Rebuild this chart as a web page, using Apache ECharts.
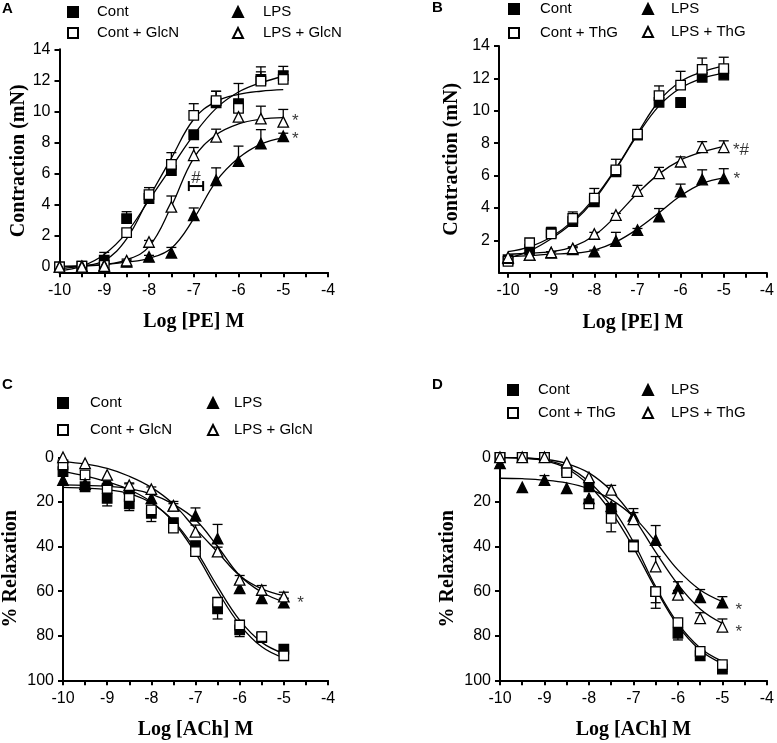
<!DOCTYPE html>
<html>
<head>
<meta charset="utf-8">
<script src="https://cdn.jsdelivr.net/npm/echarts@6/dist/echarts.min.js"></script>
<style>
html,body{margin:0;padding:0;background:#fff;}
#chart{width:777px;height:743px;}
</style>
</head>
<body>
<div id="chart"></div>
<script>
// ---------------- DATA ----------------
const logDose = [-10, -9.5, -9, -8.5, -8, -7.5, -7, -6.5, -6, -5.5, -5];

// Panel A: Contraction (mN) vs Log [PE] M
const A_cont      = [0, 0.05, 0.43, 3.1, 4.4, 6.2, 8.5, 10.55, 10.5, 12.07, 12.3];
const A_cont_err  = [0, 0, 0.5, 0.45, 0.3, 0.3, 0.2, 0.75, 1.3, 0.8, 0.6];
const A_glcn      = [0, 0.05, 0.1, 2.2, 4.65, 6.6, 9.75, 10.7, 10.2, 11.95, 12.07];
const A_glcn_err  = [0, 0, 0.1, 0.2, 0.45, 0.75, 0.75, 0.6, 0.4, 0.6, 0.5];
const A_lps       = [0, 0.05, 0.1, 0.32, 0.64, 0.9, 3.32, 5.57, 6.8, 7.93, 8.4];
const A_lps_err   = [0, 0, 0, 0.1, 0.1, 0.35, 0.47, 0.8, 0.97, 0.9, 0.2];
const A_lpsg      = [0, 0, 0.05, 0.4, 1.6, 3.86, 7.18, 8.36, 9.65, 9.54, 9.33];
const A_lpsg_err  = [0, 0, 0, 0.1, 0.1, 0.7, 0.5, 0.5, 0.3, 0.8, 0.8];
const A_cont_fit  = [-0.25, 0.05, 0.8, 2.2, 4.3, 6.4, 8.5, 10.2, 11.25, 11.85, 12.25];
const A_glcn_fit  = [-0.1, 0.05, 0.4, 1.8, 4.45, 7.0, 9.5, 10.65, 11.1, 11.3, 11.4];
const A_lps_fit   = [0.05, 0.08, 0.15, 0.3, 0.55, 1.2, 3.1, 5.5, 7.0, 7.9, 8.3];
const A_lpsg_fit  = [0, 0.05, 0.15, 0.45, 1.3, 3.9, 7.0, 8.5, 9.2, 9.5, 9.6];
const A_notes     = [[-4.73, 9.6, '*'], [-4.73, 8.47, '*'], [-6.95, 5.95, '#']];
const A_bracket   = [[-7.11, -6.79, 5.2]];

// Panel B: Contraction (mN) vs Log [PE] M
const B_cont      = [0.8, 1.45, 2.47, 3.15, 4.38, 6.23, 8.5, 10.52, 10.5, 12.06, 12.2];
const B_cont_err  = [0.1, 0.1, 0.3, 0.3, 0.3, 0.3, 0.2, 0.3, 0.3, 0.3, 0.3];
const B_thg       = [0.7, 1.85, 2.4, 3.35, 4.6, 6.35, 8.55, 10.93, 11.58, 12.55, 12.6];
const B_thg_err   = [0.1, 0.15, 0.4, 0.4, 0.6, 0.65, 0.2, 0.6, 0.85, 0.7, 0.7];
const B_lps       = [0.9, 1.09, 1.23, 1.44, 1.3, 1.95, 2.63, 3.46, 5.0, 5.75, 5.82];
const B_lps_err   = [0.1, 0.05, 0.05, 0.1, 0.1, 0.54, 0.1, 0.5, 0.47, 0.6, 0.6];
const B_lpst      = [0.95, 1.1, 1.25, 1.5, 2.39, 3.56, 5.04, 6.13, 6.85, 7.74, 7.74];
const B_lpst_err  = [0.05, 0.05, 0.05, 0.1, 0.1, 0.1, 0.35, 0.37, 0.3, 0.35, 0.4];
const B_cont_fit  = [0.9, 1.35, 2.1, 3.1, 4.5, 6.4, 8.5, 10.3, 11.4, 12.0, 12.3];
const B_thg_fit   = [1.3, 1.6, 2.2, 3.2, 4.6, 6.45, 8.6, 10.6, 11.8, 12.4, 12.75];
const B_lps_fit   = [1.0, 1.05, 1.15, 1.2, 1.4, 1.9, 2.7, 3.7, 4.75, 5.5, 5.85];
const B_lpst_fit  = [1.15, 1.2, 1.3, 1.6, 2.3, 3.5, 4.9, 6.1, 6.95, 7.45, 7.8];
const B_notes     = [[-4.6, 7.78, '*#'], [-4.7, 6.03, '*']];

// Panel C: % Relaxation vs Log [ACh] M
const C_cont      = [6.4, 13.2, 18.4, 20.9, 25.1, 29.3, 39.6, 68.0, 77.4, 80.9, 86];
const C_cont_err  = [0, 1, 3.4, 3, 3.7, 2.5, 3.5, 4.5, 3, 2, 1];
const C_glcn      = [3.4, 7.9, 13.9, 17.6, 23.6, 31.8, 42.3, 65, 75.2, 80.4, 89];
const C_glcn_err  = [0, 0, 0, 0, 0, 0, 2, -2, -2, -2, -1];
const C_lps       = [10.2, 12, 10.2, 13.9, 18.4, 21.8, 26.2, 36.5, 58.8, 63.2, 65.2];
const C_lps_err   = [0, 0, 0, -2, -2, -2, -3.5, -6.4, -2, -2, -2];
const C_lpsg      = [0, 2.7, 7.9, 12.5, 14.3, 21.8, 33.4, 42.3, 55, 59.5, 62.5];
const C_lpsg_err  = [0, 0, 0, -1, -1, -1, -3, -2, -2, -2, -2];
const C_cont_fit  = [13.5, 13.8, 14.5, 16.3, 20.5, 28.5, 41.5, 58, 73, 83, 88];
const C_glcn_fit  = [6.4, 8.3, 11, 14.5, 20, 29, 43, 60, 75, 85, 90];
const C_lps_fit   = [12.4, 12.6, 13, 14, 16.5, 21, 28, 40, 53, 60.5, 64.8];
const C_lpsg_fit  = [1.9, 3, 5, 8.5, 13.5, 21, 32, 42.5, 53, 59, 62];
const C_notes     = [[-4.62, 63.7, '*']];

// Panel D: % Relaxation vs Log [ACh] M
const D_cont      = [0, 0, 0, 6, 13.2, 22.9, 39.3, 60.2, 78.9, 89, 95];
const D_cont_err  = [0, 0, 0, 1, 1, 2, 3, 5, 3, 2, 1];
const D_thg       = [0, 0, 0, 6.9, 20.9, 27.4, 40, 60.2, 74.1, 87, 93];
const D_thg_err   = [0, 0, 0, 1, 2, 6, 2, 7.5, 2, 2, 1];
const D_lps       = [2.7, 13.5, 10.2, 13.9, 18.4, 22, 26.3, 37.1, 58.8, 62.8, 65.2];
const D_lps_err   = [0, 0, -2, 0, 0, 0, -3.3, -6.5, -3, -3.5, -2.7];
const D_lpst      = [0, 0, 0, 2.4, 9, 14.6, 27.8, 49, 61.7, 72.2, 76];
const D_lpst_err  = [0, 0, 0, 0, 0, -2, -3, -4.5, -2, -2.5, -3.5];
const D_cont_fit  = [0, 0.3, 1.2, 4.2, 11, 22, 38, 58, 74.5, 85.5, 91.5];
const D_thg_fit   = [0, 0.4, 1.5, 5, 12.5, 24.5, 40.5, 59, 75.5, 86.5, 92.5];
const D_lps_fit   = [9.4, 9.6, 10.2, 11.5, 14.2, 19, 26.6, 38, 50.5, 59.5, 64.7];
const D_lpst_fit  = [0, 0.3, 0.9, 2.8, 7, 15, 27, 42.5, 57, 68, 74.5];
const D_notes     = [[-4.63, 66.7, '*'], [-4.63, 76.7, '*']];

// Tick labels
const xLabelsPE  = [-10, -9, -8, -7, -6, -5, -4];
const xTicksHalf = [-10, -9.5, -9, -8.5, -8, -7.5, -7, -6.5, -6, -5.5, -5, -4.5, -4];
const yLabelsA   = [0, 2, 4, 6, 8, 10, 12, 14];
const yLabelsB   = [2, 4, 6, 8, 10, 12, 14];
const yLabelsCD  = [0, 20, 40, 60, 80, 100];

// ---------------- CHART ----------------
const SANS = 'Liberation Sans, Arial, sans-serif';
const SERIF = 'Liberation Serif, Times New Roman, serif';
const zip = (xs, ys) => xs.map((x, i) => [x, ys[i]]);
const zipErr = (xs, ys, es) => xs.map((x, i) => [x, ys[i], es[i]]).filter(d => d[2] !== 0);

const grids = [
  {left: 59.5, top: 49.3, width: 268.5, height: 223},
  {left: 499, top: 45.9, width: 269.3, height: 226.8},
  {left: 60, top: 457.3, width: 268, height: 223},
  {left: 500, top: 457.3, width: 268, height: 223}
];

function xAxisCfg(gi, min, name) {
  return {
    type: 'value', gridIndex: gi, min: min, max: -4,
    name: name, nameLocation: 'middle', nameGap: 40,
    nameTextStyle: {fontFamily: SERIF, fontWeight: 'bold', fontSize: 20, color: '#000'},
    axisLine: {onZero: false, lineStyle: {color: '#000', width: 2}},
    axisTick: {show: true, length: 5, lineStyle: {color: '#000', width: 2}, customValues: xTicksHalf},
    axisLabel: {color: '#000', fontSize: 16, fontFamily: SANS, margin: 10, customValues: xLabelsPE},
    splitLine: {show: false}
  };
}
function yAxisCfg(gi, min, max, labels, name, inverse, gap) {
  return {
    type: 'value', gridIndex: gi, min: min, max: max, inverse: !!inverse,
    name: name, nameLocation: 'middle', nameGap: gap,
    nameTextStyle: {fontFamily: SERIF, fontWeight: 'bold', fontSize: 20, color: '#000'},
    axisLine: {show: true, onZero: false, lineStyle: {color: '#000', width: 2}},
    axisTick: {show: true, length: 5, lineStyle: {color: '#000', width: 2}, customValues: labels},
    axisLabel: {color: '#000', fontSize: 16, fontFamily: SANS, margin: 9, customValues: labels},
    splitLine: {show: false}
  };
}

const STY = {
  cont: {symbol: 'rect', size: 9.5, fill: '#000'},
  ctrt: {symbol: 'rect', size: 9.5, fill: '#fff'},
  lps:  {symbol: 'triangle', size: 10.5, fill: '#000'},
  lpst: {symbol: 'triangle', size: 10.5, fill: '#fff'}
};

const series = [];
function addSet(gi, name, sty, vals, errs, fit) {
  series.push({
    type: 'line', xAxisIndex: gi, yAxisIndex: gi, data: zip(logDose, fit),
    smooth: 0.4, symbol: 'none', silent: true, z: 2,
    lineStyle: {color: '#000', width: 1.3}
  });
  series.push({
    type: 'custom', xAxisIndex: gi, yAxisIndex: gi, data: zipErr(logDose, vals, errs), z: 3, silent: true,
    renderItem: function (params, api) {
      const x = api.value(0), y = api.value(1), e = api.value(2);
      const p0 = api.coord([x, y]);
      const p1 = api.coord([x, y + e]);
      const w = 5;
      return {type: 'group', children: [
        {type: 'line', shape: {x1: p0[0], y1: p0[1], x2: p1[0], y2: p1[1]}, style: {stroke: '#000', lineWidth: 1.3}},
        {type: 'line', shape: {x1: p1[0] - w, y1: p1[1], x2: p1[0] + w, y2: p1[1]}, style: {stroke: '#000', lineWidth: 1.3}}
      ]};
    }
  });
  series.push({
    type: 'scatter', name: name, xAxisIndex: gi, yAxisIndex: gi, data: zip(logDose, vals), z: 5,
    symbol: sty.symbol, symbolSize: sty.size,
    itemStyle: {color: sty.fill, borderColor: '#000', borderWidth: 1.3, opacity: 1}
  });
}
function addNotes(gi, notes) {
  series.push({
    type: 'scatter', xAxisIndex: gi, yAxisIndex: gi, data: notes, symbolSize: 1, silent: true, z: 6,
    itemStyle: {color: 'rgba(0,0,0,0)'},
    label: {show: true, position: 'inside', formatter: p => p.data[2], color: '#000',
      fontSize: 17, fontFamily: SANS, offset: [0, 4]}
  });
}

addSet(0, 'Cont', STY.cont, A_cont, A_cont_err, A_cont_fit);
addSet(0, 'Cont + GlcN', STY.ctrt, A_glcn, A_glcn_err, A_glcn_fit);
addSet(0, 'LPS', STY.lps, A_lps, A_lps_err, A_lps_fit);
addSet(0, 'LPS + GlcN', STY.lpst, A_lpsg, A_lpsg_err, A_lpsg_fit);
addNotes(0, A_notes);
series.push({
  type: 'custom', xAxisIndex: 0, yAxisIndex: 0, data: A_bracket, silent: true, z: 6,
  renderItem: function (params, api) {
    const a = api.coord([api.value(0), api.value(2)]);
    const b = api.coord([api.value(1), api.value(2)]);
    const h = 5;
    const st = {stroke: '#000', lineWidth: 2};
    return {type: 'group', children: [
      {type: 'line', shape: {x1: a[0], y1: a[1], x2: b[0], y2: b[1]}, style: st},
      {type: 'line', shape: {x1: a[0], y1: a[1] - h, x2: a[0], y2: a[1] + h}, style: st},
      {type: 'line', shape: {x1: b[0], y1: b[1] - h, x2: b[0], y2: b[1] + h}, style: st}
    ]};
  }
});

addSet(1, 'Cont', STY.cont, B_cont, B_cont_err, B_cont_fit);
addSet(1, 'Cont + ThG', STY.ctrt, B_thg, B_thg_err, B_thg_fit);
addSet(1, 'LPS', STY.lps, B_lps, B_lps_err, B_lps_fit);
addSet(1, 'LPS + ThG', STY.lpst, B_lpst, B_lpst_err, B_lpst_fit);
addNotes(1, B_notes);

addSet(2, 'Cont', STY.cont, C_cont, C_cont_err, C_cont_fit);
addSet(2, 'Cont + GlcN', STY.ctrt, C_glcn, C_glcn_err, C_glcn_fit);
addSet(2, 'LPS', STY.lps, C_lps, C_lps_err, C_lps_fit);
addSet(2, 'LPS + GlcN', STY.lpst, C_lpsg, C_lpsg_err, C_lpsg_fit);
addNotes(2, C_notes);

addSet(3, 'Cont', STY.cont, D_cont, D_cont_err, D_cont_fit);
addSet(3, 'Cont + ThG', STY.ctrt, D_thg, D_thg_err, D_thg_fit);
addSet(3, 'LPS', STY.lps, D_lps, D_lps_err, D_lps_fit);
addSet(3, 'LPS + ThG', STY.lpst, D_lpst, D_lpst_err, D_lpst_fit);
addNotes(3, D_notes);

function legendCol(left, top, gap, pad, names) {
  return {
    left: left, top: top, orient: 'vertical', padding: 0, itemGap: gap,
    itemWidth: 10, itemHeight: 10, selectedMode: false,
    textStyle: {fontSize: 15, fontFamily: SANS, color: '#000', lineHeight: 15, padding: [0, 0, 0, pad]},
    data: names
  };
}

const option = {
  animation: false,
  backgroundColor: '#fff',
  title: [
    {text: 'A', left: 2, top: 1, padding: 0, textStyle: {fontSize: 15, fontWeight: 'bold', fontFamily: SANS, color: '#000'}},
    {text: 'B', left: 432, top: 0, padding: 0, textStyle: {fontSize: 15, fontWeight: 'bold', fontFamily: SANS, color: '#000'}},
    {text: 'C', left: 2, top: 377, padding: 0, textStyle: {fontSize: 15, fontWeight: 'bold', fontFamily: SANS, color: '#000'}},
    {text: 'D', left: 432, top: 377, padding: 0, textStyle: {fontSize: 15, fontWeight: 'bold', fontFamily: SANS, color: '#000'}}
  ],
  legend: [
    legendCol(67, 4.5, 6, 14, ['Cont', 'Cont + GlcN']),
    legendCol(232, 4.5, 6, 15, ['LPS', 'LPS + GlcN']),
    legendCol(508, 1.5, 9, 16, ['Cont', 'Cont + ThG']),
    legendCol(642, 1.5, 8, 13, ['LPS', 'LPS + ThG']),
    legendCol(57, 395.5, 12, 17, ['Cont', 'Cont + GlcN']),
    legendCol(207, 395.5, 12, 11, ['LPS', 'LPS + GlcN']),
    legendCol(507, 382.5, 8, 15, ['Cont', 'Cont + ThG']),
    legendCol(642, 382.5, 8, 13, ['LPS', 'LPS + ThG'])
  ],
  grid: grids,
  xAxis: [
    xAxisCfg(0, -10, 'Log [PE] M'),
    xAxisCfg(1, -10.21, 'Log [PE] M'),
    xAxisCfg(2, -10, 'Log [ACh] M'),
    xAxisCfg(3, -10, 'Log [ACh] M')
  ],
  yAxis: [
    yAxisCfg(0, -0.35, 14, yLabelsA, 'Contraction (mN)', false, 29),
    yAxisCfg(1, 0, 14, yLabelsB, 'Contraction (mN)', false, 37),
    yAxisCfg(2, 0, 100, yLabelsCD, '% Relaxation', true, 42),
    yAxisCfg(3, 0, 100, yLabelsCD, '% Relaxation', true, 42)
  ],
  series: series
};

const chart = echarts.init(document.getElementById('chart'), null, {renderer: 'canvas'});
chart.setOption(option);
</script>
</body>
</html>
